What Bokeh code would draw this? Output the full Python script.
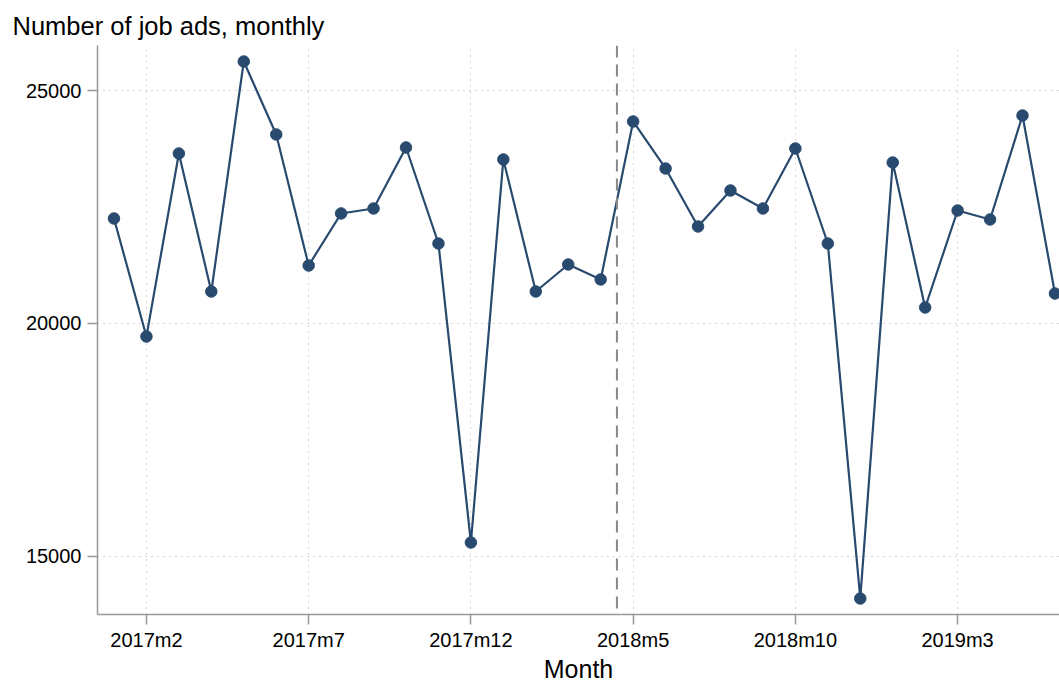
from bokeh.plotting import figure
from bokeh.models import Range1d, FixedTicker, Span
from bokeh.embed import file_html
from bokeh.resources import INLINE

months = ["2017m1", "2017m2", "2017m3", "2017m4", "2017m5", "2017m6", "2017m7", "2017m8",
          "2017m9", "2017m10", "2017m11", "2017m12", "2018m1", "2018m2", "2018m3", "2018m4",
          "2018m5", "2018m6", "2018m7", "2018m8", "2018m9", "2018m10", "2018m11", "2018m12",
          "2019m1", "2019m2", "2019m3", "2019m4", "2019m5", "2019m6"]
job_ads = [22258, 19720, 23656, 20688, 25634, 24065, 21247, 22366,
           22473, 23785, 21720, 15290, 23527, 20688, 21269, 20946,
           24344, 23333, 22086, 22860, 22473, 23763, 21720, 14086,
           23462, 20344, 22430, 22237, 24473, 20645]
x_tick_months = ["2017m2", "2017m7", "2017m12", "2018m5", "2018m10", "2019m3"]
y_ticks = [15000, 20000, 25000]
break_month = 15.5  # between 2018m4 and 2018m5

x = list(range(len(months)))
x_ticks = [months.index(m) for m in x_tick_months]

FONT = "Liberation Sans"
LINE = "#284a6e"
AXIS = "#999999"

p = figure(width=1059, height=686, output_backend="svg", toolbar_location=None,
           x_range=Range1d(-0.508, 29.14), y_range=Range1d(13742, 25978),
           min_border_left=97, min_border_right=0, min_border_top=45, min_border_bottom=72)

p.title.text = "Number of job ads, monthly"
p.title.text_font = FONT
p.title.text_font_size = "25.5px"
p.title.text_font_style = "normal"
p.title.text_color = "#000000"
p.title.align = "left"
p.title.offset = -85
p.title.standoff = 12

p.outline_line_color = None
p.background_fill_color = "white"

# grids
p.xgrid.ticker = FixedTicker(ticks=x_ticks)
p.ygrid.ticker = FixedTicker(ticks=y_ticks)
for g in (p.xgrid, p.ygrid):
    g.grid_line_color = "#a8a8a8"
    g.grid_line_dash = "1 5"
    g.grid_line_width = 1

# axes
p.xaxis.ticker = FixedTicker(ticks=x_ticks)
p.xaxis.major_label_overrides = {i: months[i] for i in x_ticks}
p.yaxis.ticker = FixedTicker(ticks=y_ticks)
p.yaxis.major_label_overrides = {v: str(v) for v in y_ticks}
for ax in (p.xaxis, p.yaxis):
    ax.axis_line_color = AXIS
    ax.axis_line_width = 1.5
    ax.major_tick_line_color = AXIS
    ax.major_tick_line_width = 1.5
    ax.major_tick_out = 10
    ax.major_tick_in = 0
    ax.minor_tick_out = 0
    ax.minor_tick_in = 0
    ax.major_label_text_font = FONT
    ax.major_label_text_font_size = "20px"
    ax.major_label_text_color = "#000000"
    ax.major_label_standoff = 5
p.yaxis.major_label_standoff = 6
p.xaxis.major_label_standoff = 4
p.xaxis.axis_label = "Month"
p.xaxis.axis_label_text_font = FONT
p.xaxis.axis_label_text_font_size = "25px"
p.xaxis.axis_label_text_font_style = "normal"
p.xaxis.axis_label_text_color = "#000000"
p.xaxis.axis_label_standoff = 1

p.add_layout(Span(location=break_month, dimension="height", line_color="#888888",
                  line_width=2, line_dash="12 7"))

p.line(x, job_ads, line_color=LINE, line_width=2.2)
p.scatter(x, job_ads, size=11.5, fill_color=LINE, line_color=LINE)

open("out.html", "w").write(file_html(p, INLINE))
